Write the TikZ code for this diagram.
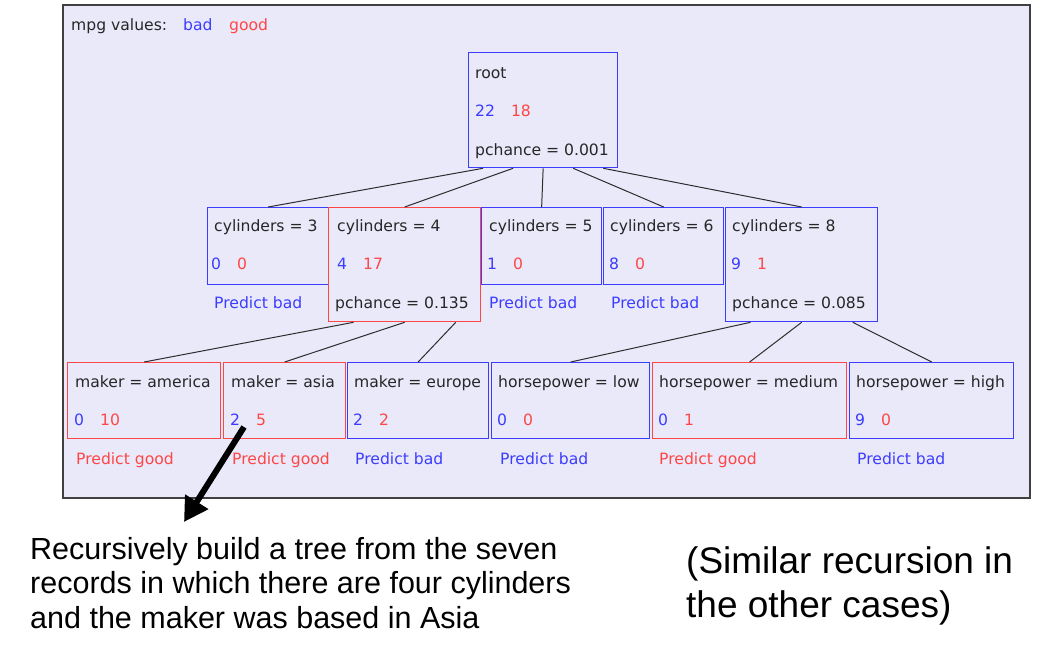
\documentclass[tikz,border=0pt]{standalone}
\usepackage{fontspec}
\usetikzlibrary{arrows.meta,calc}
\newfontfamily\treefont{DejaVu Sans}
\newfontfamily\notefont{Liberation Sans}
\definecolor{cblue}{RGB}{60,60,255}
\definecolor{cred}{RGB}{255,70,70}
\definecolor{panelbg}{RGB}{233,233,250}
\definecolor{edgegray}{RGB}{45,45,45}
\tikzset{
  panel/.style={draw=black!75, line width=1.6pt, fill=panelbg},
  tbox/.style={draw, line width=1.3pt, inner sep=0pt, anchor=north west},
  bluebox/.style={tbox, draw=cblue},
  redbox/.style={tbox, draw=cred},
  txt/.style={anchor=base west, inner sep=0pt, font=\treefont\fontsize{15.6}{18}\selectfont, text=black!85},
  btxt/.style={txt, text=cblue},
  rtxt/.style={txt, text=cred},
  edge/.style={draw=edgegray, line width=1pt},
  bigarrow/.style={line width=6pt, -{Triangle[length=24pt,width=26pt]}},
  note/.style={anchor=north west, inner sep=0pt, align=left, text=black}
}
\newcommand\cnt[2]{{\color{cblue}#1}\hspace{16pt}{\color{cred}#2}}
\begin{document}
\begin{tikzpicture}[x=1pt,y=-1pt]
\useasboundingbox (0,0) rectangle (1046,650);
\fill[white] (0,0) rectangle (1046,650);
\draw[panel] (63,5) rectangle (1030,498);

% legend
\node[txt] (leg) at (71,31) {mpg values:};
\node[btxt] (legb) at (183,31) {bad};
\node[rtxt] (legg) at (229,31) {good};

% root
\node[bluebox, minimum width=149pt, minimum height=115pt] (root) at (468,52) {};
\node[txt] (rootA) at (475,79) {root};
\node[txt] (rootB) at (475,117) {\cnt{22}{18}};
\node[txt] (rootC) at (475,155) {pchance = 0.001};

% level 2
\node[bluebox, minimum width=121pt, minimum height=77pt] (c3) at (207,207) {};
\node[txt] (c3A) at (214,231) {cylinders = 3};
\node[txt] (c3B) at (211,269) {\cnt{0}{0}};
\node[btxt] (c3C) at (214,308) {Predict bad};

\node[redbox, minimum width=152pt, minimum height=114pt] (c4) at (328,207) {};
\node[txt] (c4A) at (337,231) {cylinders = 4};
\node[txt] (c4B) at (337,269) {\cnt{4}{17}};
\node[txt] (c4C) at (335,308) {pchance = 0.135};

\node[bluebox, minimum width=120pt, minimum height=77pt] (c5) at (481,207) {};
\node[txt] (c5A) at (489,231) {cylinders = 5};
\node[txt] (c5B) at (487,269) {\cnt{1}{0}};
\node[btxt] (c5C) at (489,308) {Predict bad};

\node[bluebox, minimum width=120pt, minimum height=77pt] (c6) at (603,207) {};
\node[txt] (c6A) at (610,231) {cylinders = 6};
\node[txt] (c6B) at (609,269) {\cnt{8}{0}};
\node[btxt] (c6C) at (611,308) {Predict bad};

\node[bluebox, minimum width=152pt, minimum height=114pt] (c8) at (725,207) {};
\node[txt] (c8A) at (732,231) {cylinders = 8};
\node[txt] (c8B) at (731,269) {\cnt{9}{1}};
\node[txt] (c8C) at (732,308) {pchance = 0.085};

% level 3
\node[redbox, minimum width=153pt, minimum height=76pt] (mA) at (67,362) {};
\node[txt] (mAa) at (75,387) {maker = america};
\node[txt] (mAb) at (74,425) {\cnt{0}{10}};
\node[rtxt] (mAc) at (76,464) {Predict good};

\node[redbox, minimum width=122pt, minimum height=76pt] (mB) at (223,362) {};
\node[txt] (mBa) at (231,387) {maker = asia};
\node[txt] (mBb) at (230,425) {\cnt{2}{5}};
\node[rtxt] (mBc) at (232,464) {Predict good};

\node[bluebox, minimum width=141pt, minimum height=76pt] (mC) at (347,362) {};
\node[txt] (mCa) at (354,387) {maker = europe};
\node[txt] (mCb) at (353,425) {\cnt{2}{2}};
\node[btxt] (mCc) at (355,464) {Predict bad};

\node[bluebox, minimum width=158pt, minimum height=76pt] (hA) at (491,362) {};
\node[txt] (hAa) at (498,387) {horsepower = low};
\node[txt] (hAb) at (497,425) {\cnt{0}{0}};
\node[btxt] (hAc) at (500,464) {Predict bad};

\node[redbox, minimum width=194pt, minimum height=76pt] (hB) at (652,362) {};
\node[txt] (hBa) at (659,387) {horsepower = medium};
\node[txt] (hBb) at (658,425) {\cnt{0}{1}};
\node[rtxt] (hBc) at (659,464) {Predict good};

\node[bluebox, minimum width=164pt, minimum height=76pt] (hC) at (849,362) {};
\node[txt] (hCa) at (856,387) {horsepower = high};
\node[txt] (hCb) at (855,425) {\cnt{9}{0}};
\node[btxt] (hCc) at (857,464) {Predict bad};

% edges
\draw[edge] ($(root.south west)!0.1!(root.south east)$) -- (c3.north);
\draw[edge] ($(root.south west)!0.3!(root.south east)$) -- (c4.north);
\draw[edge] ($(root.south west)!0.5!(root.south east)$) -- (c5.north);
\draw[edge] ($(root.south west)!0.7!(root.south east)$) -- (c6.north);
\draw[edge] ($(root.south west)!0.9!(root.south east)$) -- (c8.north);

\draw[edge] ($(c4.south west)!0.1667!(c4.south east)$) -- (mA.north);
\draw[edge] ($(c4.south west)!0.5!(c4.south east)$) -- (mB.north);
\draw[edge] ($(c4.south west)!0.8333!(c4.south east)$) -- (mC.north);

\draw[edge] ($(c8.south west)!0.1667!(c8.south east)$) -- (hA.north);
\draw[edge] ($(c8.south west)!0.5!(c8.south east)$) -- (hB.north);
\draw[edge] ($(c8.south west)!0.8333!(c8.south east)$) -- (hC.north);

% big arrow
\coordinate (arrS) at (244,427);
\coordinate (arrE) at (184,522);
\draw[bigarrow] (arrS) -- (arrE);

% notes
\node[note, font=\notefont\fontsize{30.5}{34.5}\selectfont] (noteL) at (30,537)
  {Recursively build a tree from the seven\\records in which there are four cylinders\\and the maker was based in Asia};
\node[note, font=\notefont\fontsize{37}{44}\selectfont] (noteR) at (686,546)
  {(Similar recursion in\\the other cases)};
\end{tikzpicture}
\end{document}
